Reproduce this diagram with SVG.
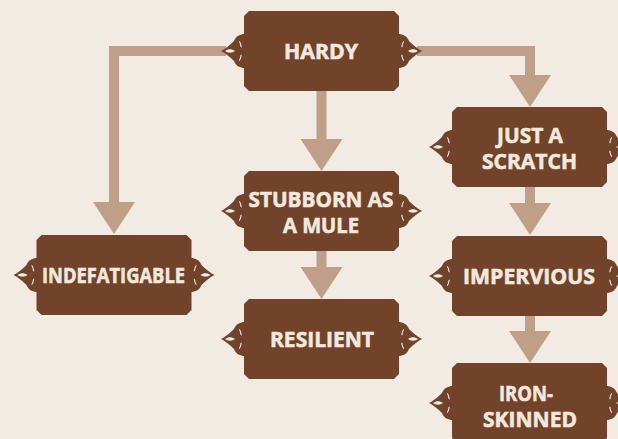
<svg xmlns="http://www.w3.org/2000/svg" xmlns:xlink="http://www.w3.org/1999/xlink" width="618" height="439" viewBox="0 0 618 439">
<style>
.bg{fill:#f2ebe3}
.conn{fill:none;stroke:#c09f89;stroke-width:10;stroke-linejoin:miter;stroke-linecap:butt}
.head{fill:#c09f89}
.card{fill:#71432a;fill-rule:evenodd}
.lbl{font-family:"Open Sans","DejaVu Sans",sans-serif;font-weight:700;font-size:21px;fill:#f1e9df;stroke:#f1e9df;stroke-width:0.6;text-anchor:middle}
</style>
<defs>
<marker id="arrow" viewBox="0 0 32 42" refX="0" refY="21" markerWidth="32" markerHeight="42" markerUnits="userSpaceOnUse" orient="auto">
<path class="head" d="M0,0 L32,21 L0,42 Z"/>
</marker>
<path id="orn" d="M1,-17 C-4,-17 -8,-15 -10,-10 C-14,-6 -19,-2 -23,0 C-19,2 -14,6 -10,10 C-8,15 -4,17 1,17 Z M-19,0 C-16,-2.2 -12,-2.2 -9,0 C-12,2.2 -16,2.2 -19,0 Z M-4.5,-10 C-3,-8 -2.3,-5.5 -2.3,-3.5 L-3.6,-4.2 C-3.6,-6.3 -4.2,-8 -5.2,-9.3 Z M-4.5,10 C-3,8 -2.3,5.5 -2.3,3.5 L-3.6,4.2 C-3.6,6.3 -4.2,8 -5.2,9.3 Z"/>
<g id="card">
<path class="card" d="M-72.5,-40 H72.5 L77.5,-35 V35 L72.5,40 H-72.5 L-77.5,35 V-35 Z"/>
<use xlink:href="#orn" class="card" transform="translate(-77.5,0)"/>
<use xlink:href="#orn" class="card" transform="translate(77.5,0) scale(-1,1)"/>
</g>
</defs>
<rect class="bg" x="0" y="0" width="618" height="439"/>
<g id="connectors">
<path class="conn" d="M226,51 H114 V202" marker-end="url(#arrow)"/>
<path class="conn" d="M417,51 H530 V75" marker-end="url(#arrow)"/>
<path class="conn" d="M321.5,91 V139" marker-end="url(#arrow)"/>
<path class="conn" d="M321.5,251 V267" marker-end="url(#arrow)"/>
<path class="conn" d="M530,187 V203" marker-end="url(#arrow)"/>
<path class="conn" d="M530,316 V331" marker-end="url(#arrow)"/>
</g>
<g id="hardy">
<use xlink:href="#card" x="321.5" y="51"/>
<text class="lbl" x="321" y="58.5" textLength="74" lengthAdjust="spacingAndGlyphs">HARDY</text>
</g>
<g id="indefatigable">
<use xlink:href="#card" x="114" y="275"/>
<text class="lbl" x="113.5" y="282.5" textLength="143" lengthAdjust="spacingAndGlyphs">INDEFATIGABLE</text>
</g>
<g id="stubborn">
<use xlink:href="#card" x="321.5" y="211"/>
<text class="lbl" x="321" y="207" textLength="145" lengthAdjust="spacingAndGlyphs">STUBBORN AS</text>
<text class="lbl" x="321" y="233" textLength="76" lengthAdjust="spacingAndGlyphs">A MULE</text>
</g>
<g id="resilient">
<use xlink:href="#card" x="321.5" y="339"/>
<text class="lbl" x="322" y="347" textLength="104" lengthAdjust="spacingAndGlyphs">RESILIENT</text>
</g>
<g id="scratch">
<use xlink:href="#card" x="529.5" y="147"/>
<text class="lbl" x="530" y="143" textLength="66" lengthAdjust="spacingAndGlyphs">JUST A</text>
<text class="lbl" x="529.5" y="169" textLength="95" lengthAdjust="spacingAndGlyphs">SCRATCH</text>
</g>
<g id="impervious">
<use xlink:href="#card" x="529.5" y="276"/>
<text class="lbl" x="529" y="283.5" textLength="132" lengthAdjust="spacingAndGlyphs">IMPERVIOUS</text>
</g>
<g id="ironskinned">
<use xlink:href="#card" x="529.5" y="403"/>
<text class="lbl" x="526" y="401" textLength="54" lengthAdjust="spacingAndGlyphs">IRON-</text>
<text class="lbl" x="530" y="427" textLength="94" lengthAdjust="spacingAndGlyphs">SKINNED</text>
</g>
</svg>
